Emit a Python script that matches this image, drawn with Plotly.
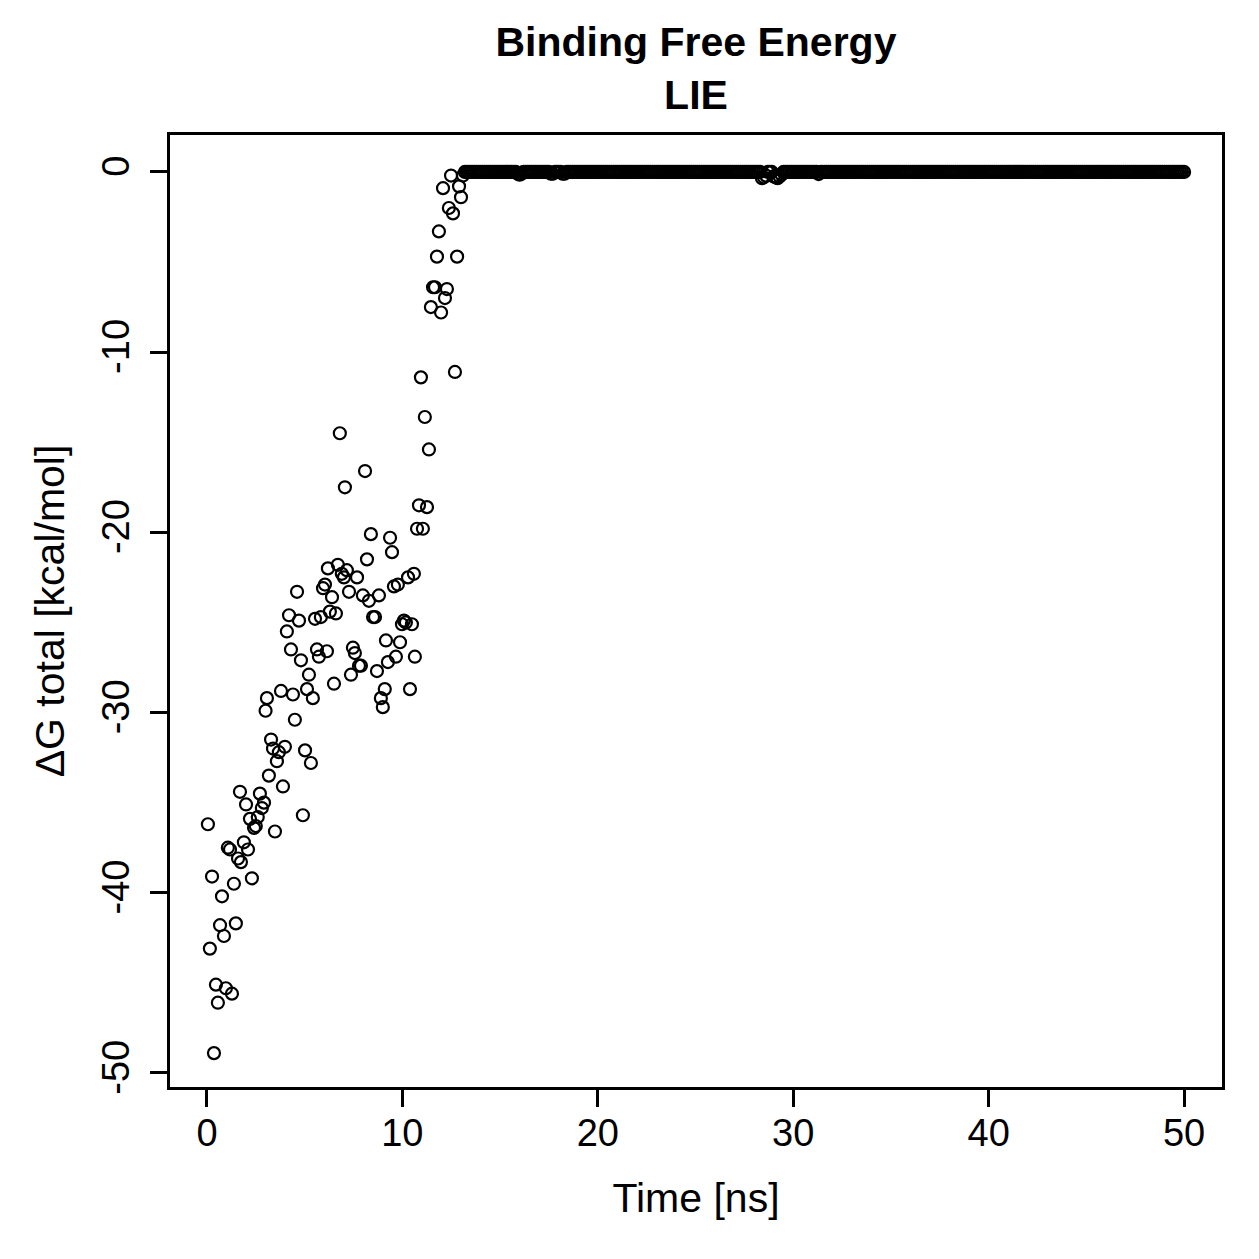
import numpy as np
import plotly.graph_objects as go

# Early segment
early_time = [0.05,0.15,0.26,0.36,0.46,0.56,0.67,0.77,0.87,0.97,1.07,1.18,1.28,1.38,1.48,1.59,1.69,1.74,1.89,2.00,
              2.10,2.20,2.30,2.41,2.50,2.60,2.71,2.81,2.92,3.00,3.07,3.17,3.28,3.38,3.48,3.58,3.68,3.79,3.89,3.99,
              4.09,4.20,4.30,4.40,4.50,4.61,4.71,4.81,4.91,5.02,5.12,5.22,5.32,5.42,5.53,5.63,5.73,5.83,5.94,6.04,
              6.14,6.19,6.29,6.40,6.50,6.60,6.70,6.80,6.90,7.01,7.06,7.16,7.27,7.37,7.47,7.57,7.68,7.78,7.88,7.98,
              8.09,8.19,8.29,8.39,8.50,8.60,8.70,8.80,8.90,9.00,9.10,9.16,9.26,9.37,9.47,9.57,9.67,9.77,9.88,9.98,
              10.08,10.18,10.29,10.39,10.49,10.59,10.64,10.75,10.85,10.95,11.05,11.15,11.26,11.36,11.46,11.57,11.67,11.77,11.87,11.98,
              12.08,12.18,12.28,12.38,12.49,12.59,12.69,12.80,12.90,13.00,13.10]
early_dg = [-36.2,-43.1,-39.1,-48.9,-45.1,-46.1,-41.8,-40.2,-42.4,-45.3,-37.5,-37.6,-45.6,-39.5,-41.7,-38.1,-34.4,-38.3,-37.2,-35.1,
            -37.6,-35.9,-39.2,-36.4,-36.3,-35.8,-34.5,-35.3,-35.0,-29.9,-29.2,-33.5,-31.5,-32.0,-36.6,-32.7,-32.2,-28.8,-34.1,-31.9,
            -25.5,-24.6,-26.5,-29.0,-30.4,-23.3,-24.9,-27.1,-35.7,-32.1,-28.7,-27.9,-32.8,-29.2,-24.8,-26.5,-26.9,-24.7,-23.1,-22.9,
            -26.6,-22.0,-24.4,-23.6,-28.4,-24.5,-21.8,-14.5,-22.3,-22.5,-17.5,-22.1,-23.3,-27.9,-26.4,-26.7,-22.5,-27.4,-27.4,-23.5,
            -16.6,-21.5,-23.8,-20.1,-24.7,-24.7,-27.7,-23.5,-29.2,-29.7,-28.7,-26.0,-27.2,-20.3,-21.1,-23.0,-26.9,-22.9,-26.1,-25.1,
            -24.9,-25.0,-22.5,-28.7,-25.1,-22.3,-26.9,-19.8,-18.5,-11.4,-19.8,-13.6,-18.6,-15.4,-7.5,-6.4,-6.4,-4.7,-3.3,-7.8,
            -0.9,-7.0,-6.5,-2.0,-0.2,-2.3,-11.1,-4.7,-0.8,-1.4,-0.2]

plateau_time = np.round(np.arange(13.2, 50.0001, 0.1), 1)
dip_time = [15.9, 16.0, 16.1, 17.6, 17.7, 18.2, 18.3, 28.4, 28.5, 28.6, 29.0, 29.1, 29.2, 29.3, 29.4, 31.3]
dip_dg = [-0.1, -0.15, -0.1, -0.1, -0.1, -0.1, -0.1, -0.35, -0.3, -0.2, -0.25, -0.3, -0.35, -0.25, -0.15, -0.12]
plateau_dg = np.zeros(len(plateau_time))
for t, v in zip(dip_time, dip_dg):
    plateau_dg[np.argmin(np.abs(plateau_time - t))] = v

time = list(early_time) + list(plateau_time)
dg = list(early_dg) + list(plateau_dg)

x_ticks = [0, 10, 20, 30, 40, 50]
y_ticks = [0, -10, -20, -30, -40, -50]

FONT = "Liberation Sans, Arial, sans-serif"

fig = go.Figure()
fig.add_trace(go.Scatter(
    x=time, y=dg, mode="markers",
    marker=dict(symbol="circle-open", size=12, color="black", line=dict(width=2.2, color="black")),
    showlegend=False,
))

axis_common = dict(
    showline=True, mirror=True, linecolor="black", linewidth=3,
    ticks="outside", ticklen=17, tickwidth=3, tickcolor="black",
    showgrid=False, zeroline=False,
    tickfont=dict(family=FONT, size=38, color="black"),
)

fig.update_layout(
    width=1259, height=1259,
    margin=dict(l=170, r=37, t=135, b=172),
    paper_bgcolor="white", plot_bgcolor="white",
    font=dict(family=FONT, color="black"),
    title=dict(
        text="<b>Binding Free Energy</b><br><b>LIE</b>",
        x=(170 + 1222) / 2 / 1259, xanchor="center",
        y=1 - 56 / 1259, yanchor="top",
        font=dict(family=FONT, size=41, color="black"),
    ),
    xaxis=dict(
        range=[-1.89, 51.94], tickvals=x_ticks, ticktext=[str(v) for v in x_ticks],
        title=dict(text="Time [ns]", font=dict(family=FONT, size=41, color="black"), standoff=31),
        ticklabelstandoff=-7,
        **axis_common,
    ),
    yaxis=dict(
        range=[-50.78, 2.05], tickvals=y_ticks, ticktext=[str(v) for v in y_ticks],
        tickangle=-90,
        title=dict(text="ΔG total [kcal/mol]", font=dict(family=FONT, size=41, color="black"), standoff=18),
        ticklabelstandoff=6,
        **axis_common,
    ),
)

fig.write_html("out.html")
